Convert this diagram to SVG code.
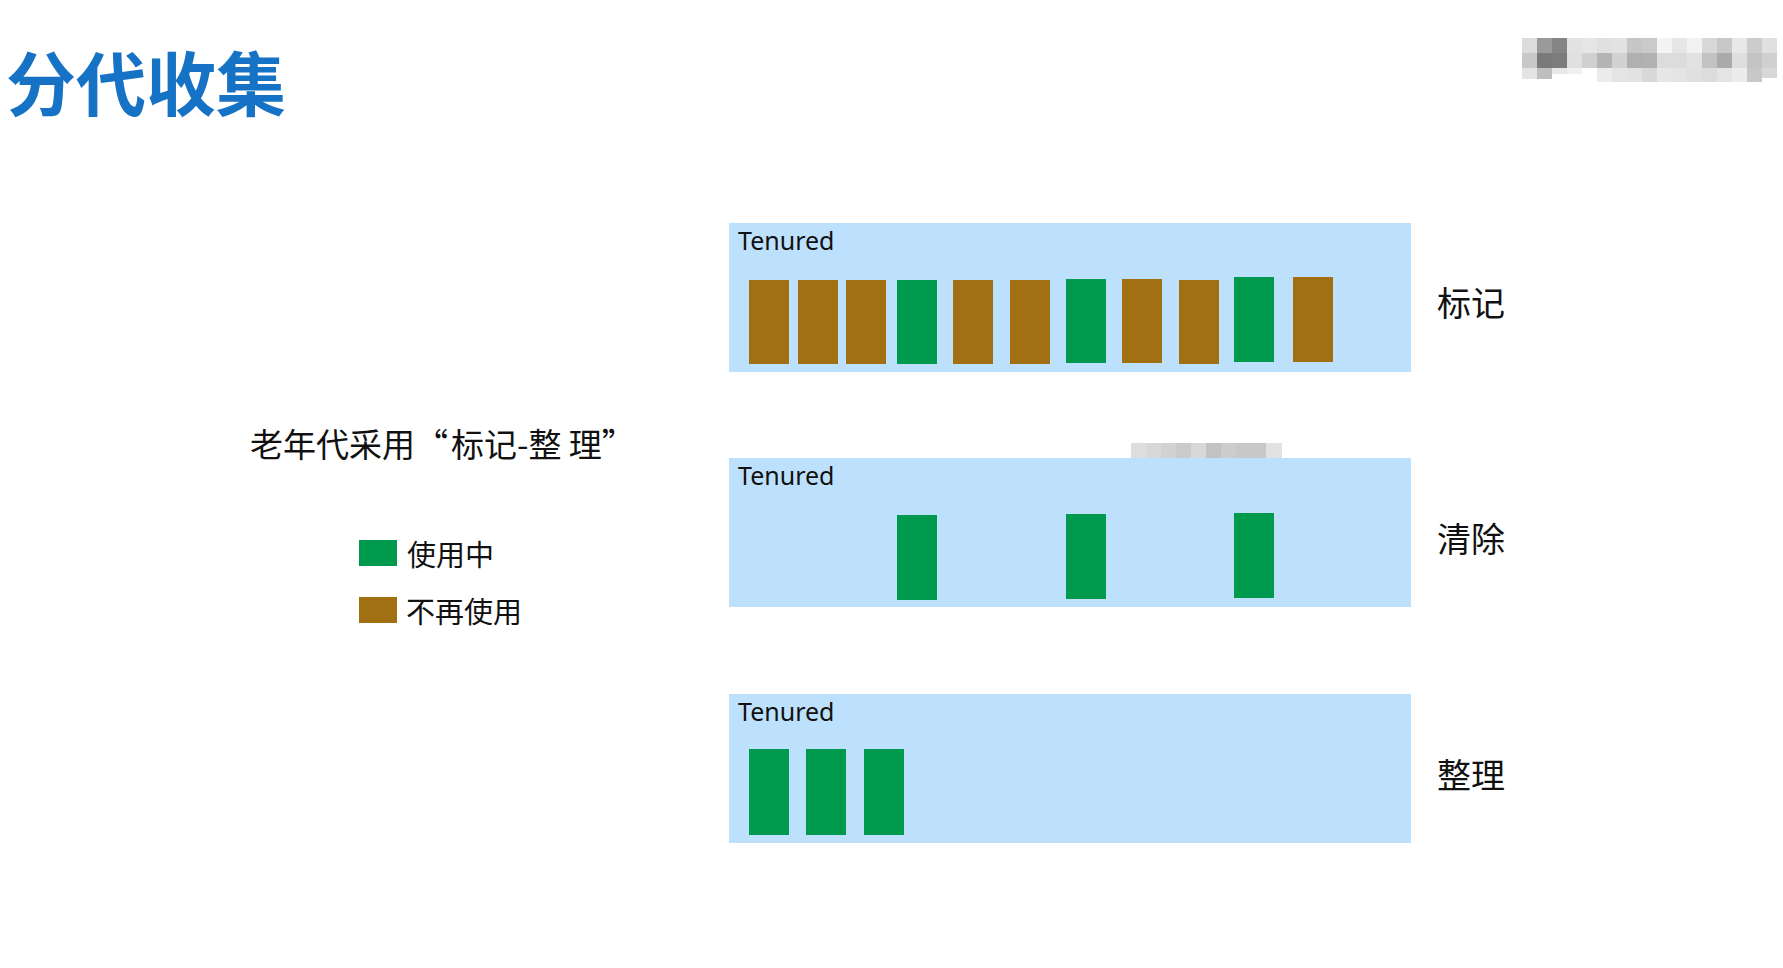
<svg xmlns="http://www.w3.org/2000/svg" width="1783" height="968" viewBox="0 0 1783 968">
<style>
.panel{fill:#BDE1FC}
.g{fill:#009A4F}
.b{fill:#A07012}
.ten{font-family:"Noto Sans","Open Sans",sans-serif;font-size:25px;fill:#111}
.cjk{font-family:"Noto Sans CJK SC","Noto Sans",sans-serif;fill:#111}
.title{font-family:"Noto Sans CJK SC",sans-serif;font-weight:bold;font-size:70px;fill:#1572C4}
</style>
<rect width="1783" height="968" fill="#fff"/>
<g id="title"><text class="title" x="6" y="111">分代收集</text></g>
<g id="redaction-top">
<rect x="1522" y="38" width="15" height="15" fill="#dcdcdc"/><rect x="1537" y="38" width="15" height="15" fill="#9a9a9a"/><rect x="1552" y="38" width="15" height="15" fill="#858585"/><rect x="1567" y="38" width="15" height="15" fill="#e2e2e2"/><rect x="1582" y="38" width="15" height="15" fill="#e6e6e6"/><rect x="1597" y="38" width="15" height="15" fill="#e0e0e0"/><rect x="1612" y="38" width="15" height="15" fill="#e2e2e2"/><rect x="1627" y="38" width="15" height="15" fill="#c6c6c6"/><rect x="1642" y="38" width="15" height="15" fill="#cacaca"/><rect x="1657" y="38" width="15" height="15" fill="#f4f4f4"/><rect x="1672" y="38" width="15" height="15" fill="#e6e6e6"/><rect x="1687" y="38" width="15" height="15" fill="#f2f2f2"/><rect x="1702" y="38" width="15" height="15" fill="#d8d8d8"/><rect x="1717" y="38" width="15" height="15" fill="#c8c8c8"/><rect x="1732" y="38" width="15" height="15" fill="#e8e8e8"/><rect x="1747" y="38" width="15" height="15" fill="#cccccc"/><rect x="1762" y="38" width="15" height="15" fill="#e0e0e0"/>
<rect x="1522" y="53" width="15" height="15" fill="#c8c8c8"/><rect x="1537" y="53" width="15" height="15" fill="#7a7a7a"/><rect x="1552" y="53" width="15" height="15" fill="#7c7c7c"/><rect x="1567" y="53" width="15" height="15" fill="#e0e0e0"/><rect x="1582" y="53" width="15" height="15" fill="#d0d0d0"/><rect x="1597" y="53" width="15" height="15" fill="#b4b4b4"/><rect x="1612" y="53" width="15" height="15" fill="#d2d2d2"/><rect x="1627" y="53" width="15" height="15" fill="#b0b0b0"/><rect x="1642" y="53" width="15" height="15" fill="#b2b2b2"/><rect x="1657" y="53" width="15" height="15" fill="#dcdcdc"/><rect x="1672" y="53" width="15" height="15" fill="#dcdcdc"/><rect x="1687" y="53" width="15" height="15" fill="#e2e2e2"/><rect x="1702" y="53" width="15" height="15" fill="#c2c2c2"/><rect x="1717" y="53" width="15" height="15" fill="#aaaaaa"/><rect x="1732" y="53" width="15" height="15" fill="#dedede"/><rect x="1747" y="53" width="15" height="15" fill="#c4c4c4"/><rect x="1762" y="53" width="15" height="15" fill="#d0d0d0"/>
<rect x="1522" y="68" width="15" height="11" fill="#e4e4e4"/><rect x="1537" y="68" width="15" height="11" fill="#bebebe"/><rect x="1552" y="68" width="15" height="6" fill="#e8e8e8"/><rect x="1567" y="68" width="15" height="6" fill="#f0f0f0"/><rect x="1597" y="68" width="15" height="14" fill="#ececec"/><rect x="1612" y="68" width="15" height="14" fill="#e4e4e4"/><rect x="1627" y="68" width="15" height="14" fill="#e2e2e2"/><rect x="1642" y="68" width="15" height="14" fill="#d8d8d8"/><rect x="1657" y="68" width="15" height="14" fill="#e6e6e6"/><rect x="1672" y="68" width="15" height="14" fill="#e4e4e4"/><rect x="1687" y="68" width="15" height="14" fill="#e0e0e0"/><rect x="1702" y="68" width="15" height="14" fill="#dcdcdc"/><rect x="1717" y="68" width="15" height="14" fill="#e4e4e4"/><rect x="1732" y="68" width="15" height="14" fill="#ececec"/><rect x="1747" y="68" width="15" height="14" fill="#c8c8c8"/><rect x="1762" y="68" width="15" height="10" fill="#d8d8d8"/>
</g>
<g id="redaction-mid">
<rect x="1131" y="443" width="15" height="15" fill="#dedede"/><rect x="1146" y="443" width="15" height="15" fill="#d8d8d8"/><rect x="1161" y="443" width="15" height="15" fill="#d2d2d2"/><rect x="1176" y="443" width="15" height="15" fill="#cacaca"/><rect x="1191" y="443" width="15" height="15" fill="#d8d8d8"/><rect x="1206" y="443" width="15" height="15" fill="#c2c2c2"/><rect x="1221" y="443" width="15" height="15" fill="#cccccc"/><rect x="1236" y="443" width="15" height="15" fill="#c8c8c8"/><rect x="1251" y="443" width="15" height="15" fill="#c8c8c8"/><rect x="1266" y="443" width="16" height="15" fill="#e2e2e2"/>
</g>
<g id="caption">
<text class="cjk" y="457" font-size="33"><tspan x="250">老年代采用“</tspan><tspan x="451">标记-整 理”</tspan></text>
</g>
<g id="legend">
<rect class="g" x="359" y="540" width="38" height="26"/>
<text class="cjk" x="407" y="566" font-size="29">使用中</text>
<rect class="b" x="359" y="597" width="38" height="26"/>
<text class="cjk" x="406" y="623" font-size="29">不再使用</text>
</g>
<g id="panel-mark">
<rect class="panel" x="729" y="223" width="682" height="149"/>
<text class="ten" x="738" y="250">Tenured</text>
<rect class="b" x="749" y="280" width="40" height="84"/>
<rect class="b" x="798" y="280" width="40" height="84"/>
<rect class="b" x="846" y="280" width="40" height="84"/>
<rect class="g" x="897" y="280" width="40" height="84"/>
<rect class="b" x="953" y="280" width="40" height="84"/>
<rect class="b" x="1010" y="280" width="40" height="84"/>
<rect class="g" x="1066" y="279" width="40" height="84"/>
<rect class="b" x="1122" y="279" width="40" height="84"/>
<rect class="b" x="1179" y="280" width="40" height="84"/>
<rect class="g" x="1234" y="277" width="40" height="85"/>
<rect class="b" x="1293" y="277" width="40" height="85"/>
<text class="cjk" x="1437" y="316" font-size="34">标记</text>
</g>
<g id="panel-sweep">
<rect class="panel" x="729" y="458" width="682" height="149"/>
<text class="ten" x="738" y="485">Tenured</text>
<rect class="g" x="897" y="515" width="40" height="85"/>
<rect class="g" x="1066" y="514" width="40" height="85"/>
<rect class="g" x="1234" y="513" width="40" height="85"/>
<text class="cjk" x="1437" y="552" font-size="34">清除</text>
</g>
<g id="panel-compact">
<rect class="panel" x="729" y="694" width="682" height="149"/>
<text class="ten" x="738" y="721">Tenured</text>
<rect class="g" x="749" y="749" width="40" height="86"/>
<rect class="g" x="806" y="749" width="40" height="86"/>
<rect class="g" x="864" y="749" width="40" height="86"/>
<text class="cjk" x="1437" y="788" font-size="34">整理</text>
</g>
<g id="connectors"></g>
</svg>
